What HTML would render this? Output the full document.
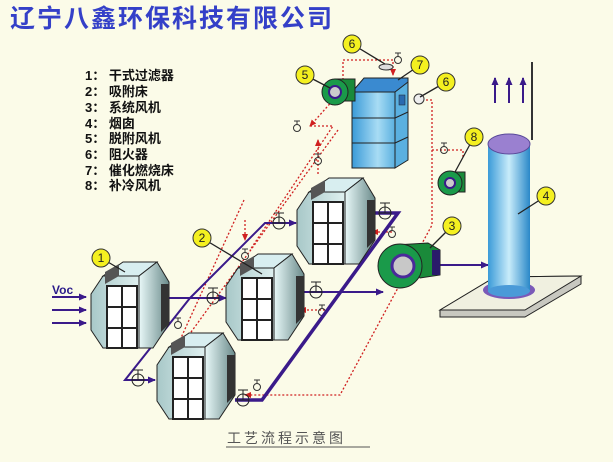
<!DOCTYPE html>
<html><head><meta charset="utf-8"><style>
html,body{margin:0;padding:0;background:#fbfbe8;}
svg{display:block}
text{font-family:"Liberation Sans","Noto Sans CJK SC",sans-serif;}
</style></head><body>
<svg width="613" height="462" viewBox="0 0 613 462" xmlns="http://www.w3.org/2000/svg">
<defs>
<linearGradient id="side" x1="0" x2="1"><stop offset="0" stop-color="#e8f8f8"/><stop offset="1" stop-color="#6a8a8a"/></linearGradient>
<linearGradient id="front" x1="0" x2="1"><stop offset="0" stop-color="#a8c8c8"/><stop offset="1" stop-color="#dff0f0"/></linearGradient>
<linearGradient id="tower" x1="0" x2="1"><stop offset="0" stop-color="#3a9ad8"/><stop offset="0.6" stop-color="#a8dcf4"/><stop offset="1" stop-color="#5ab0e0"/></linearGradient>
<linearGradient id="chim" x1="0" x2="1"><stop offset="0" stop-color="#3a9ad8"/><stop offset="0.5" stop-color="#c8ecfa"/><stop offset="1" stop-color="#2a88c8"/></linearGradient>
<g id="bed">
<polygon points="12,14 32,0 66,0 48,14" fill="#d8eef0" stroke="#222" stroke-width="1"/>
<polygon points="12,14 0,32 0,68 12,86 48,86 48,14" fill="url(#front)" stroke="#222"/>
<polygon points="48,14 66,0 78,20 78,62 62,86 48,86" fill="url(#side)" stroke="#222"/>
<polygon points="70,22 78,22 78,62 70,70" fill="#333"/>
<rect x="16" y="24" width="30" height="62" fill="#fff" stroke="#222" stroke-width="2"/>
<line x1="31" y1="24" x2="31" y2="86" stroke="#222" stroke-width="2"/>
<line x1="16" y1="45" x2="46" y2="45" stroke="#222" stroke-width="2"/>
<line x1="16" y1="66" x2="46" y2="66" stroke="#222" stroke-width="2"/>
<polygon points="14,10 28,2 28,14 14,22" fill="#555"/>
</g>
<g id="valve"><line x1="0" y1="-10" x2="0" y2="0" stroke="#222"/><line x1="-5" y1="-10" x2="5" y2="-10" stroke="#222"/><circle cx="0" cy="0" r="6" fill="none" stroke="#222"/><line x1="-6" y1="0" x2="6" y2="0" stroke="#222"/></g>
<g id="sv"><circle cx="0" cy="0" r="3.5" fill="none" stroke="#333"/><line x1="0" y1="-3" x2="0" y2="-7" stroke="#333"/><line x1="-3" y1="-7" x2="3" y2="-7" stroke="#333"/></g>
<marker id="ab" markerUnits="userSpaceOnUse" markerWidth="8" markerHeight="8" refX="7" refY="4" orient="auto"><path d="M0,0.5 L8,4 L0,7.5z" fill="#3a1a8a"/></marker>
<marker id="ar" markerUnits="userSpaceOnUse" markerWidth="7" markerHeight="7" refX="6" refY="3.5" orient="auto"><path d="M0,0.5 L7,3.5 L0,6.5z" fill="#d02020"/></marker>
</defs>

<text x="10" y="27" font-size="25" font-weight="bold" fill="#3440c8" font-family="'Noto Serif CJK SC','Liberation Serif',serif" letter-spacing="2">辽宁八鑫环保科技有限公司</text>

<g font-size="13" font-weight="bold" fill="#111">
<text x="85" y="80">1： 干式过滤器</text>
<text x="85" y="96">2： 吸附床</text>
<text x="85" y="112">3： 系统风机</text>
<text x="85" y="128">4： 烟囱</text>
<text x="85" y="143">5： 脱附风机</text>
<text x="85" y="159">6： 阻火器</text>
<text x="85" y="175">7： 催化燃烧床</text>
<text x="85" y="190">8： 补冷风机</text>
</g>

<!-- red dotted lines -->
<g stroke="#d02020" stroke-width="1.3" stroke-dasharray="2,2" fill="none">
<polyline points="343,80 343,60 393,60 393,75" marker-end="url(#ar)"/>
<line x1="335" y1="98" x2="310" y2="126" marker-end="url(#ar)"/>
<polyline points="310,126 333,126 250,250"/>
<line x1="318" y1="174" x2="318" y2="140" marker-end="url(#ar)"/>
<line x1="338" y1="130" x2="178" y2="350"/>
<line x1="245" y1="220" x2="245" y2="240" marker-end="url(#ar)"/>
<polyline points="422,100 432,100 432,225 340,395 245,395" marker-end="url(#ar)"/>
<polyline points="463,157 463,150 432,150" />
<line x1="392" y1="232" x2="372" y2="232" marker-end="url(#ar)"/>
<line x1="325" y1="310" x2="300" y2="310" marker-end="url(#ar)"/>
<line x1="244" y1="200" x2="180" y2="340"/>
</g>
<use href="#sv" x="398" y="60"/><use href="#sv" x="297" y="128"/><use href="#sv" x="318" y="161"/><use href="#sv" x="444" y="150"/>
<use href="#sv" x="392" y="234"/><use href="#sv" x="322" y="312"/><use href="#sv" x="257" y="387"/><use href="#sv" x="178" y="325"/><use href="#sv" x="245" y="256"/>

<!-- blue pipes -->
<g stroke="#3a1a8a" stroke-width="2" fill="none">
<line x1="168" y1="298" x2="226" y2="298" marker-end="url(#ab)"/>
<polyline points="190,298 265,223 296,223" marker-end="url(#ab)"/>
<polyline points="190,298 125,380 155,380" marker-end="url(#ab)"/>
<line x1="300" y1="292" x2="383" y2="292" marker-end="url(#ab)"/>
<line x1="440" y1="265" x2="488" y2="265" marker-end="url(#ab)"/>
</g>
<polyline points="375,213 398,213 262,400 235,400" stroke="#3a1a8a" stroke-width="3.5" fill="none"/>
<line x1="52" y1="297" x2="86" y2="297" stroke="#3a1a8a" stroke-width="2" marker-end="url(#ab)"/>
<line x1="52" y1="310" x2="86" y2="310" stroke="#3a1a8a" stroke-width="2" marker-end="url(#ab)"/>
<line x1="52" y1="323" x2="86" y2="323" stroke="#3a1a8a" stroke-width="2" marker-end="url(#ab)"/>
<text x="52" y="294" font-size="12" font-weight="bold" fill="#2a1a8a">Voc</text>
<use href="#valve" x="213" y="298"/><use href="#valve" x="279" y="223"/><use href="#valve" x="385" y="213"/>
<use href="#valve" x="316" y="292"/><use href="#valve" x="138" y="380"/><use href="#valve" x="243" y="400"/>

<!-- beds -->
<use href="#bed" x="91" y="262"/>
<use href="#bed" x="226" y="254"/>
<use href="#bed" x="297" y="178"/>
<use href="#bed" x="157" y="333"/>

<!-- catalytic tower -->
<polygon points="352,92 364,78 408,78 408,90 395,92" fill="#3a8ad0" stroke="#222"/>
<rect x="352" y="92" width="43" height="76" fill="url(#tower)" stroke="#222"/>
<polygon points="395,92 408,82 408,160 395,168" fill="#5ab0e0" stroke="#222"/>
<line x1="352" y1="118" x2="395" y2="118" stroke="#222"/><line x1="352" y1="143" x2="395" y2="143" stroke="#222"/>
<line x1="395" y1="118" x2="408" y2="112" stroke="#222"/><line x1="395" y1="143" x2="408" y2="137" stroke="#222"/>
<rect x="399" y="95" width="6" height="10" fill="#2a6ab0" stroke="#222" stroke-width="0.5"/>
<circle cx="419" cy="99" r="5" fill="#eee" stroke="#333"/>
<ellipse cx="386" cy="67" rx="7" ry="3" fill="#ddd" stroke="#333"/>

<!-- fans -->
<g><rect x="335" y="79" width="20" height="22" fill="#1a8a3a" stroke="#222"/><circle cx="335" cy="92" r="13" fill="#1a9a4a" stroke="#222"/><circle cx="335" cy="92" r="6" fill="#ccc" stroke="#3a1a8a" stroke-width="2"/></g>
<g><rect x="447" y="172" width="18" height="20" fill="#1a8a3a" stroke="#222"/><circle cx="450" cy="183" r="12" fill="#1a9a4a" stroke="#222"/><circle cx="450" cy="183" r="5" fill="#ccc" stroke="#3a1a8a" stroke-width="2"/></g>
<g><polygon points="395,245 428,243 440,250 440,275 420,278" fill="#1a8a3a" stroke="#222"/><rect x="432" y="250" width="8" height="25" fill="#2a1a6a"/><circle cx="400" cy="266" r="22" fill="#1a9a4a" stroke="#222"/><circle cx="403" cy="266" r="11" fill="#c8c8c8" stroke="#4a2a9a" stroke-width="3"/></g>

<!-- chimney -->
<polygon points="440,310 495,277 581,276 581,284 525,317 440,317" fill="#c8c8c0" stroke="#222"/>
<polygon points="440,310 495,277 581,276 525,310" fill="#f0f0e0" stroke="#222"/>
<ellipse cx="509" cy="290" rx="26" ry="9" fill="#7a5ab8"/>
<rect x="488" y="144" width="42" height="148" fill="url(#chim)"/>
<ellipse cx="509" cy="291" rx="21" ry="6" fill="#4a9ad8"/>
<ellipse cx="509" cy="144" rx="21" ry="10" fill="#9a80d0" stroke="#5a4a9a"/>
<line x1="532" y1="62" x2="532" y2="140" stroke="#333" stroke-width="2"/>
<g stroke="#3a1a8a" stroke-width="2"><line x1="495" y1="103" x2="495" y2="78" marker-end="url(#ab)"/><line x1="509" y1="103" x2="509" y2="78" marker-end="url(#ab)"/><line x1="523" y1="103" x2="523" y2="78" marker-end="url(#ab)"/></g>

<!-- labels -->
<g stroke="#222" stroke-width="1.3">
<line x1="101" y1="258" x2="125" y2="272"/><line x1="202" y1="238" x2="262" y2="274"/><line x1="452" y1="226" x2="430" y2="248"/>
<line x1="546" y1="196" x2="518" y2="214"/><line x1="305" y1="75" x2="330" y2="88"/><line x1="352" y1="44" x2="385" y2="64"/>
<line x1="420" y1="65" x2="398" y2="80"/><line x1="446" y1="82" x2="420" y2="97"/><line x1="474" y1="137" x2="455" y2="172"/>
</g>
<g font-size="12" text-anchor="middle" fill="#222">
<g fill="#f4f020" stroke="#333">
<circle cx="101" cy="258" r="9"/><circle cx="202" cy="238" r="9"/><circle cx="452" cy="226" r="9"/><circle cx="546" cy="196" r="9"/>
<circle cx="305" cy="75" r="9"/><circle cx="352" cy="44" r="9"/><circle cx="420" cy="65" r="9"/><circle cx="446" cy="82" r="9"/><circle cx="474" cy="137" r="9"/>
</g>
<text x="101" y="262">1</text><text x="202" y="242">2</text><text x="452" y="230">3</text><text x="546" y="200">4</text>
<text x="305" y="79">5</text><text x="352" y="48">6</text><text x="420" y="69">7</text><text x="446" y="86">6</text><text x="474" y="141">8</text>
</g>

<text x="227" y="443" font-size="14" fill="#555" letter-spacing="3">工艺流程示意图</text>
<line x1="226" y1="447" x2="370" y2="447" stroke="#555"/>
</svg>
</body></html>
